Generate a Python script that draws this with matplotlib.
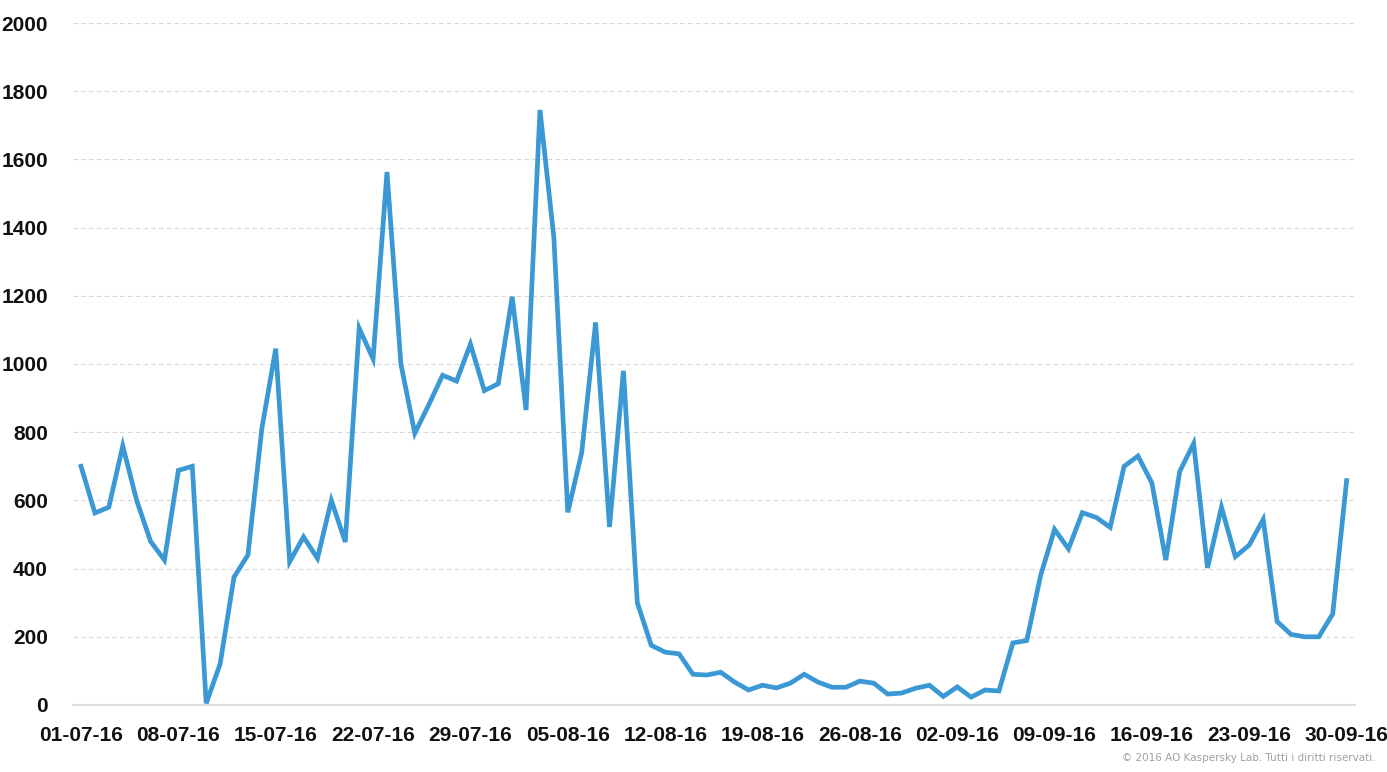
import matplotlib.pyplot as plt
import matplotlib.font_manager as fm

# Daily counts, 01-07-16 .. 30-09-16
values = [700, 563, 580, 760, 600, 480, 425, 688, 700, 5,
          120, 375, 440, 810, 1045, 420, 493, 430, 600, 478,
          1105, 1015, 1563, 1000, 797, 880, 967, 950, 1058, 922,
          942, 1197, 865, 1745, 1370, 565, 740, 1122, 522, 980,
          300, 175, 155, 150, 90, 88, 96, 67, 44, 58,
          50, 64, 90, 67, 52, 52, 70, 64, 32, 35,
          49, 58, 25, 53, 23, 44, 41, 182, 189, 380,
          515, 458, 564, 550, 521, 700, 730, 651, 425, 685,
          767, 402, 580, 435, 469, 544, 245, 207, 200, 200,
          267, 658]

tick_labels = ["01-07-16", "08-07-16", "15-07-16", "22-07-16", "29-07-16",
               "05-08-16", "12-08-16", "19-08-16", "26-08-16", "02-09-16",
               "09-09-16", "16-09-16", "23-09-16", "30-09-16"]
tick_pos = [7 * i for i in range(len(tick_labels) - 1)] + [len(values) - 1]

y_ticks = list(range(0, 2001, 200))

# narrow bold face if present, else Liberation Sans
names = {f.name for f in fm.fontManager.ttflist}
if "Liberation Sans Narrow" in names:
    font, fsize = "Liberation Sans Narrow", 16.5
else:
    font, fsize = "Liberation Sans", 15

fig = plt.figure(figsize=(13.87, 7.72), dpi=100)
ax = fig.add_axes([0.0526, 0.0868, 0.9243, 0.8834])

ax.plot(range(len(values)), values, color="#3a98d4", lw=3.4,
        solid_joinstyle="miter", zorder=3)

ax.set_xlim(-0.58, 91.6)
ax.set_ylim(0, 2000)
ax.set_yticks(y_ticks)
ax.set_xticks(tick_pos)
ax.set_xticklabels(tick_labels)

for t in ax.get_xticklabels() + ax.get_yticklabels():
    t.set_fontfamily(font)
    t.set_fontweight("bold")
    t.set_fontsize(fsize)
    t.set_color("#111111")

ax.tick_params(axis="y", length=0, pad=18)
ax.tick_params(axis="x", length=0, pad=15)

ax.grid(axis="y", color="#d8d8d8", linestyle=(0, (4, 3)), lw=0.8)
ax.set_axisbelow(True)
for s in ["top", "right", "left"]:
    ax.spines[s].set_visible(False)
ax.spines["bottom"].set_color("#dddddd")
ax.spines["bottom"].set_linewidth(1.5)

fig.text(0.992, 0.012, "© 2016 AO Kaspersky Lab. Tutti i diritti riservati.",
         ha="right", va="bottom", fontsize=7.5, color="#a0a0a0")

fig.savefig("out.png", dpi=100)
